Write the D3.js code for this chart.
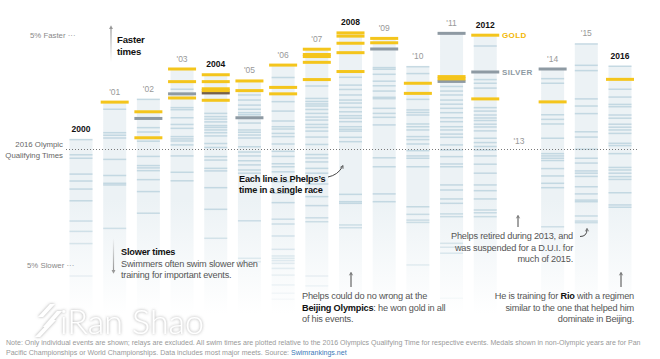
<!DOCTYPE html>
<html><head><meta charset="utf-8">
<script src="https://cdn.jsdelivr.net/npm/d3@7"></script>
<style>
body{margin:0;background:#fff}
svg{display:block}
text{font-family:"Liberation Sans",Arial,sans-serif}
</style>
</head><body>
<svg id="chart" width="660" height="359"></svg>
<script>
// ---- DATA: % difference vs 2016 Olympic qualifying time (negative = faster) ----
const years = [2000,2001,2002,2003,2004,2005,2006,2007,2008,2009,2010,2011,2012,2013,2014,2015,2016];
const yearLabels = ["2000","'01","'02","'03","2004","'05","'06","'07","2008","'09","'10","'11","2012","'13","'14","'15","2016"];
const olympicYears = [2000,2004,2008,2012,2016];
const raceTimes = [
  [-0.43,0.23,0.38,1.07,1.37,1.72,2.23,3.11,3.56,4.09,5.5],
  [-1.75,-0.73,-0.62,-0.5,0.43,1.13,1.47,1.54,3.43],
  [-2.18,-0.95,-0.76,-0.36,0.3,0.7,0.8,0.92,1.31,1.83,2.77],
  [-2.62,-1.82,-1.73,-1.38,-1.09,-0.92,-0.56,-0.46,-0.37,-0.2,0.28,0.99,1.36],
  [-1.57,-1.43,-1.32,-1.2,-1.04,-0.96,-0.85,-0.73,-0.59,-0.26,-0.09,0.31,0.46,0.82,0.93,1.66,2.6,3.86],
  [-2.37,-2.15,-1.93,-1.75,-1.6,-1.51,-1.15,-0.85,-0.75,-0.63,-0.5,-0.12,0.11,0.28,0.49,0.67,0.89,1.03,3.1,4.73,4.88],
  [-3.13,-2.08,-1.67,-1.24,-0.99,-0.89,-0.7,-0.56,-0.24,0.08,0.3,0.62,0.75,0.97,1.4,1.9,2.31,3.03,3.24,3.76,4.34,4.63,4.73,4.83,4.95,5.17,5.46,5.89,6.25,6.51],
  [-2.76,-2.22,-2.09,-1.98,-1.89,-1.74,-1.57,-1.41,-1.28,-1.09,-0.96,-0.8,-0.54,-0.22,0.22,0.37,0.54,0.82,1.03,1.5,2.05,2.44,2.97,3.14,5.5,5.93],
  [-3.14,-2.8,-2.61,-2.37,-2.15,-2.02,-1.83,-1.64,-1.47,-1.36,-1.21,-0.99,-0.88,-0.8,-0.53,-0.34,1.95,2.27,2.34,3.28,3.4],
  [-3.56,-3.49,-3.27,-2.97,-2.77,-2.54,-2.27,-2.21,-1.79,-1.57,-1.4,-1.07,0.36,0.75,1.93,2.27],
  [-3.6,-3.3,-2.18,-1.72,-1.61,-1.5,-1.11,-0.99,-0.85,-0.56,-0.43,-0.24,0.05,0.28,0.38,0.75,2.49,2.82,3.07,3.17,5.02],
  [-2.74,-2.54,-2.37,-2.15,-1.97,-1.79,-1.6,-1.38,-1.21,-0.99,-0.85,-0.67,-0.53,-0.2,0.02,0.31,0.63,0.75,1.54,1.76,2.15,2.34,2.8,2.92,4.08,4.25,4.51,6.47],
  [-4.5,-3.04,-2.88,-2.67,-1.82,-1.67,-1.5,-1.37,-1.26,-1.1,-0.98,-0.81,-0.49,-0.3,-0.13,0.02,0.28,0.64,1.03,1.54,1.79,2.15,2.63,2.75,2.92],
  [],
  [-3.08,-2.88,-1.51,-1.31,-1.11,-0.49,0.18,0.28,0.38,0.48,0.83,1.15,1.47,1.66,3.36],
  [-4.59,-3.66,-3.43,-2.2,-1.89,-1.56,-0.77,-0.54,-0.01,0.38,0.59,0.93,1.03,1.17,1.62,1.93,2.2,2.27,2.89,3.11,3.18],
  [-3.62,-2.62,-2.28,-1.96,-1.86,-1.5,-1.36,-1.1,-0.97,-0.85,-0.7,-0.27,-0.17,0.18,0.78,0.89,1.03,1.18,1.3,1.88,2.41,2.51]
];
const goldTimes = [
  [],[-2.06],[-1.64,-0.51],[-3.5,-2.95,-2.24],[-3.25,-2.95,-2.64,-2.56,-2.14],[-2.98,-2.56],
  [-3.67,-2.7,-2.42],[-4.36,-4.13,-4.04,-3.79,-3.04],[-5.07,-4.93,-4.62,-4.21,-3.39],[-4.83,-4.64],
  [-2.88,-2.44],[-3.17,-3.07],[-4.97,-2.2],[],[-2.07],[],[-3.05]
];
const silverTimes = [
  [],[],[-1.35],[-2.42],[],[-1.38],[],[],[],[-4.37],[],[-5.05,-2.96],[-3.37],[],[-3.5],[],[]
];
const bronzeTimes = [
  [],[],[],[],[-2.46],[],[],[],[],[],[],[],[],[],[],[],[]
];
const highlightYear = 2008;
const highlightTime = 0.54;

// ---- SETUP ----
const svg = d3.select("#chart");
const x = d3.scalePoint().domain(years).range([81, 620]);
const y = d3.scaleLinear().domain([-5, 5]).range([34.5, 264.5]);
const colW = 23, medalW = 28, bottomY = 314;
const fade = v => { const p = y(v); return p < 205 ? 1 : Math.max(0, (bottomY - p) / (bottomY - 205)); };

const defs = svg.append("defs");
const bgGrad = defs.append("linearGradient").attr("id","bgGrad")
  .attr("gradientUnits","userSpaceOnUse").attr("x1",0).attr("x2",0).attr("y1",200).attr("y2",bottomY);
bgGrad.append("stop").attr("offset",0).attr("stop-color","#ecf2f5").attr("stop-opacity",1);
bgGrad.append("stop").attr("offset",1).attr("stop-color","#ecf2f5").attr("stop-opacity",0);

const fastGrad = defs.append("linearGradient").attr("id","fastGrad")
  .attr("gradientUnits","userSpaceOnUse").attr("x1",0).attr("x2",0).attr("y1",24).attr("y2",62);
fastGrad.append("stop").attr("offset",0).attr("stop-color","#888");
fastGrad.append("stop").attr("offset",1).attr("stop-color","#888").attr("stop-opacity",0);
const slowGrad = defs.append("linearGradient").attr("id","slowGrad")
  .attr("gradientUnits","userSpaceOnUse").attr("x1",0).attr("x2",0).attr("y1",238).attr("y2",275);
slowGrad.append("stop").attr("offset",0).attr("stop-color","#888").attr("stop-opacity",0);
slowGrad.append("stop").attr("offset",1).attr("stop-color","#888");

defs.append("marker").attr("id","ah").attr("viewBox","-5 -5 10 10")
  .attr("markerWidth",6).attr("markerHeight",6).attr("orient","auto").attr("markerUnits","userSpaceOnUse")
  .append("path").attr("d","M-3,-2.6 L2,0 L-3,2.6").attr("fill","none").attr("stroke","#333").attr("stroke-width",1);
defs.append("marker").attr("id","ahg").attr("viewBox","-5 -5 10 10")
  .attr("markerWidth",7).attr("markerHeight",7).attr("orient","auto").attr("markerUnits","userSpaceOnUse")
  .append("path").attr("d","M-3,-2.8 L2.5,0 L-3,2.8 Z").attr("fill","#999");

const shadow = defs.append("filter").attr("id","wm").attr("x","-10%").attr("y","-30%").attr("width","120%").attr("height","160%");
shadow.append("feDropShadow").attr("dx",0).attr("dy",0).attr("stdDeviation",1.6).attr("flood-color","#999").attr("flood-opacity",0.9);

// ---- COLUMNS ----
const cols = years.map((yr, i) => ({
  year: yr, label: yearLabels[i], races: raceTimes[i], gold: goldTimes[i],
  silver: silverTimes[i], bronze: bronzeTimes[i],
  top: d3.min([...raceTimes[i], ...goldTimes[i], ...silverTimes[i], ...bronzeTimes[i]])
}));

const g = svg.append("g");
const col = g.selectAll("g.col").data(cols.filter(d => d.top !== undefined)).join("g").attr("class","col");

col.append("rect")
  .attr("x", d => x(d.year) - colW/2).attr("width", colW)
  .attr("y", d => y(d.top)).attr("height", d => bottomY - y(d.top))
  .attr("fill","url(#bgGrad)");

const isHi = d => d.year === highlightYear && d.v === highlightTime;
col.selectAll("rect.race").data(d => d.races.map(v => ({year:d.year, v}))).join("rect").attr("class","race")
  .attr("x", d => x(d.year) - colW/2).attr("width", colW)
  .attr("y", d => y(d.v) - 0.75).attr("height", 1.5)
  .attr("fill", d => isHi(d) ? "#4d6b7a" : "#b6cfdb")
  .attr("opacity", d => isHi(d) ? 1 : 0.75 * fade(d.v));

const medal = (key, color) => col.selectAll("rect." + key).data(d => d[key].map(v => ({year:d.year, v}))).join("rect")
  .attr("class", key)
  .attr("x", d => x(d.year) - medalW/2).attr("width", medalW)
  .attr("y", d => y(d.v) - 1.5).attr("height", 3)
  .attr("fill", color);
medal("silver", "#8e9aa3");
medal("bronze", "#74604c");
medal("gold", "#f4c51c");

// year labels
g.selectAll("text.yl").data(cols).join("text").attr("class","yl")
  .attr("x", d => x(d.year)).attr("text-anchor","middle")
  .attr("y", d => d.top !== undefined ? y(d.top) - 7.5 : 143.5)
  .attr("font-size", 8.5)
  .attr("font-weight", d => olympicYears.includes(d.year) ? "bold" : "normal")
  .attr("fill", d => olympicYears.includes(d.year) ? "#111" : "#999")
  .text(d => d.label);

// qualifying dotted line
svg.append("line").attr("x1",66).attr("x2",637).attr("y1",y(0)).attr("y2",y(0))
  .attr("stroke","#777").attr("stroke-width",1).attr("stroke-dasharray","1,2");

// y labels
const lab = svg.append("g").attr("font-size",7.8).attr("fill","#888");
lab.append("text").attr("x",30).attr("y",y(-5)+3).text("5% Faster ···");
lab.append("text").attr("x",27).attr("y",y(5)+3).text("5% Slower ···");
lab.append("text").attr("x",63).attr("y",y(0)-3).attr("text-anchor","end").attr("fill","#666").text("2016 Olympic");
lab.append("text").attr("x",63).attr("y",y(0)+8.5).attr("text-anchor","end").attr("fill","#666").text("Qualifying Times");

// faster / slower arrows
svg.append("line").attr("x1",111).attr("x2",111).attr("y1",62).attr("y2",27).attr("stroke","url(#fastGrad)").attr("stroke-width",1.2).attr("marker-end","url(#ahg)");
svg.append("line").attr("x1",113.5).attr("x2",113.5).attr("y1",238).attr("y2",272).attr("stroke","url(#slowGrad)").attr("stroke-width",1.2).attr("marker-end","url(#ahg)");

const ann = svg.append("g").attr("font-size",9.2).attr("letter-spacing",-0.2).attr("fill","#555");
const bold = (sel) => sel.attr("font-weight","bold").attr("fill","#111");
bold(ann.append("text").attr("x",117).attr("y",43)).attr("font-size",9.6).text("Faster");
bold(ann.append("text").attr("x",117).attr("y",54.5)).attr("font-size",9.6).text("times");
bold(ann.append("text").attr("x",121).attr("y",255)).text("Slower times");
ann.append("text").attr("x",121).attr("y",266.5).text("Swimmers often swim slower when");
ann.append("text").attr("x",121).attr("y",277.5).text("training for important events.");
bold(ann.append("text").attr("x",239).attr("y",181.5)).text("Each line is Phelps\u2019s");
bold(ann.append("text").attr("x",239).attr("y",192.5)).text("time in a single race");

ann.append("text").attr("x",302).attr("y",299).text("Phelps could do no wrong at the");
const t2 = ann.append("text").attr("x",302).attr("y",310.5);
bold(t2.append("tspan")).text("Beijing Olympics");
t2.append("tspan").text(": he won gold in all");
ann.append("text").attr("x",302).attr("y",321.5).text("of his events.");

ann.append("text").attr("x",573).attr("y",239).attr("text-anchor","end").text("Phelps retired during 2013, and");
ann.append("text").attr("x",573).attr("y",250.5).attr("text-anchor","end").text("was suspended for a D.U.I. for");
ann.append("text").attr("x",573).attr("y",261.5).attr("text-anchor","end").text("much of 2015.");

const r1 = ann.append("text").attr("x",634).attr("y",299).attr("text-anchor","end");
r1.append("tspan").text("He is training for ");
bold(r1.append("tspan")).text("Rio");
r1.append("tspan").text(" with a regimen");
ann.append("text").attr("x",634).attr("y",310.5).attr("text-anchor","end").text("similar to the one that helped him");
ann.append("text").attr("x",634).attr("y",321.5).attr("text-anchor","end").text("dominate in Beijing.");

// GOLD / SILVER labels (2012)
svg.append("text").attr("x",502).attr("y",y(goldTimes[12][0])+3).attr("font-size",8).attr("font-weight","bold").attr("fill","#f2b705").attr("letter-spacing",0.4).text("GOLD");
svg.append("text").attr("x",502).attr("y",y(silverTimes[12][0])+3).attr("font-size",8).attr("font-weight","bold").attr("fill","#8e9aa3").attr("letter-spacing",0.4).text("SILVER");

// annotation arrows
const arr = svg.append("g").attr("fill","none").attr("stroke","#333").attr("stroke-width",0.9);
arr.append("path").attr("d","M328,177 Q338,175 342.5,166.5").attr("marker-end","url(#ah)");
arr.append("line").attr("x1",351).attr("x2",351).attr("y1",287).attr("y2",273.5).attr("marker-end","url(#ah)");
arr.append("line").attr("x1",621).attr("x2",621).attr("y1",287).attr("y2",273.5).attr("marker-end","url(#ah)");
arr.append("line").attr("x1",518).attr("x2",518).attr("y1",227).attr("y2",216.5).attr("marker-end","url(#ah)");
arr.append("path").attr("d","M580,236.5 Q587,236.5 587,229.5").attr("marker-end","url(#ah)");

// watermark
const wm = svg.append("g").attr("filter","url(#wm)");
wm.append("path").attr("d","M38,317 L50,304 L55,304 L43,317 Z M43,327 L57,311 L62,311 L48,327 Z M35,337 L51,320 L56,320 L40,337 Z").attr("fill","#fff");
wm.append("text").attr("x",60).attr("y",334).attr("font-size",34).attr("font-weight",300)
  .attr("style","font-family:Lato,'Open Sans',sans-serif").attr("fill","#fff").text("iRan Shao");

// footer
const ft = svg.append("g").attr("font-size",7.05).attr("fill","#999");
ft.append("text").attr("x",6).attr("y",344.5)
  .text("Note: Only individual events are shown; relays are excluded. All swim times are plotted relative to the 2016 Olympics Qualifying Time for respective events. Medals shown in non-Olympic years are for Pan");
const f2 = ft.append("text").attr("x",6).attr("y",355);
f2.append("tspan").text("Pacific Championships or World Championships. Data includes most major meets. Source: ");
f2.append("tspan").attr("fill","#3b79b7").text("Swimrankings.net");
</script>
</body></html>
